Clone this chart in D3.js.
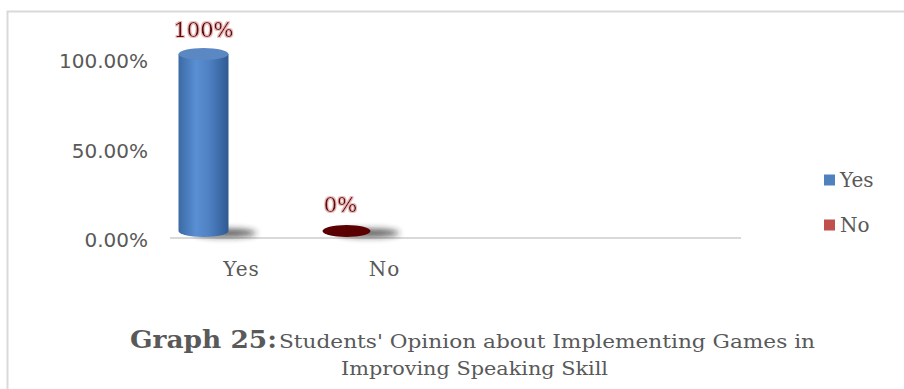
<!DOCTYPE html>
<html><head><meta charset="utf-8">
<script src="https://cdn.jsdelivr.net/npm/d3@7"></script>
<style>body{margin:0;background:#fff}svg{display:block}</style>
</head><body>
<svg id="c" width="904" height="389"></svg>
<script>
const categories = ["Yes", "No"];
const values = [1.0, 0.0];
const dataLabels = ["100%", "0%"];
const yTicks = [0, 0.5, 1.0];
const legendItems = ["Yes", "No"];
const titleBold = "Graph 25:";
const titleRest = "Students' Opinion about Implementing Games in";
const titleLine2 = "Improving Speaking Skill";

const svg = d3.select("#c");
const defs = svg.append("defs");

// frame
svg.append("path").attr("d","M7.5,389 V11.5 H904").attr("fill","none").attr("stroke","#d9d9d9").attr("stroke-width",2);

const serif = "'DejaVu Serif', serif";
const sans = "'DejaVu Sans', sans-serif";

const x = d3.scaleBand().domain(categories).range([170, 170 + 143 * categories.length]);
const axisEnd = 741;
const yAxisScale = d3.scaleLinear().domain([0, 1]).range([240, 61]);
const yBar = d3.scaleLinear().domain([0, 1]).range([231, 54]);

// y tick labels
svg.append("g").selectAll("text").data(yTicks).join("text")
  .attr("x", 148).attr("y", d => yAxisScale(d)).attr("dy", "0.35em")
  .attr("text-anchor", "end").attr("font-family", sans).attr("font-size", 20)
  .attr("fill", "#595959").text(d => d3.format(".2%")(d));

// axis line
svg.append("line").attr("x1", 170).attr("x2", axisEnd).attr("y1", 238).attr("y2", 238)
  .attr("stroke", "#d9d9d9").attr("stroke-width", 2);

// category labels
svg.append("g").selectAll("text").data(categories).join("text")
  .attr("x", d => x(d) + x.bandwidth() / 2).attr("y", 276)
  .attr("text-anchor", "middle").attr("font-family", serif).attr("font-size", 20)
  .attr("letter-spacing", 1)
  .attr("fill", "#595959").text(d => d);

// gradients
const g1 = defs.append("linearGradient").attr("id", "cylBlue").attr("x1", 0).attr("x2", 1).attr("y1", 0).attr("y2", 0);
[[0, "#3b6aa5"], [0.35, "#5a8fd3"], [0.6, "#4f82c4"], [1, "#2f5a92"]].forEach(s => g1.append("stop").attr("offset", s[0]).attr("stop-color", s[1]));
const blur = defs.append("filter").attr("id", "blur").attr("x", "-50%").attr("y", "-100%").attr("width", "200%").attr("height", "300%");
blur.append("feGaussianBlur").attr("stdDeviation", 3);
const glow = defs.append("filter").attr("id", "glow");
glow.append("feMorphology").attr("in", "SourceAlpha").attr("operator", "dilate").attr("radius", 1).attr("result", "d");
glow.append("feFlood").attr("flood-color", "#f2b8b8");
glow.append("feComposite").attr("in2", "d").attr("operator", "in").attr("result", "g");
const m = glow.append("feMerge");
m.append("feMergeNode").attr("in", "g");
m.append("feMergeNode").attr("in", "SourceGraphic");

const shift = -38, rx = 25, ry = 6;
const bars = svg.append("g");
categories.forEach((c, i) => {
  const cx = x(c) + x.bandwidth() / 2 + shift;
  const yb = yBar(0), yt = yBar(values[i]);
  // shadow
  bars.append("ellipse").attr("cx", cx + 22).attr("cy", yb + 2).attr("rx", rx + 6).attr("ry", 4)
    .attr("fill", "#222").attr("opacity", 0.75).attr("filter", "url(#blur)");
  if (values[i] > 0) {
    bars.append("path")
      .attr("d", `M${cx - rx},${yt} V${yb} A${rx},${ry} 0 0 0 ${cx + rx},${yb} V${yt} Z`)
      .attr("fill", "url(#cylBlue)");
    bars.append("ellipse").attr("cx", cx).attr("cy", yt).attr("rx", rx).attr("ry", ry)
      .attr("fill", "#5b87c2");
  } else {
    bars.append("ellipse").attr("cx", cx).attr("cy", yt).attr("rx", rx - 1).attr("ry", ry)
      .attr("fill", "#5a0000");
  }
  svg.append("text").attr("x", i === 0 ? cx : cx - 6).attr("y", i === 0 ? yt - 17 : yt - 19)
    .attr("text-anchor", "middle").attr("font-family", serif).attr("font-size", 21)
    .attr("fill", "#5a0a0a").attr("filter", "url(#glow)").text(dataLabels[i]);
});

// legend
const legColors = ["#4f81bd", "#c0504d"];
const leg = svg.append("g");
legendItems.forEach((t, i) => {
  const ly = 180 + i * 45;
  leg.append("rect").attr("x", 824).attr("y", ly - 5.5).attr("width", 11).attr("height", 11).attr("fill", legColors[i]);
  leg.append("text").attr("x", 840).attr("y", ly).attr("dy", "0.35em").attr("font-family", serif)
    .attr("font-size", 20).attr("fill", "#595959").text(t);
});

// title
svg.append("text").attr("x", 130).attr("y", 348).attr("fill", "#595959").attr("font-family", serif)
  .attr("font-size", 25).attr("font-weight", "bold")
  .attr("textLength", 147).attr("lengthAdjust", "spacingAndGlyphs").text(titleBold);
svg.append("text").attr("x", 279).attr("y", 348).attr("fill", "#595959").attr("font-family", serif)
  .attr("font-size", 19).attr("textLength", 536).attr("lengthAdjust", "spacingAndGlyphs").text(titleRest);
svg.append("text").attr("x", 341).attr("y", 375).attr("fill", "#595959")
  .attr("font-family", serif).attr("font-size", 19)
  .attr("textLength", 267).attr("lengthAdjust", "spacingAndGlyphs").text(titleLine2);
</script>
</body></html>
